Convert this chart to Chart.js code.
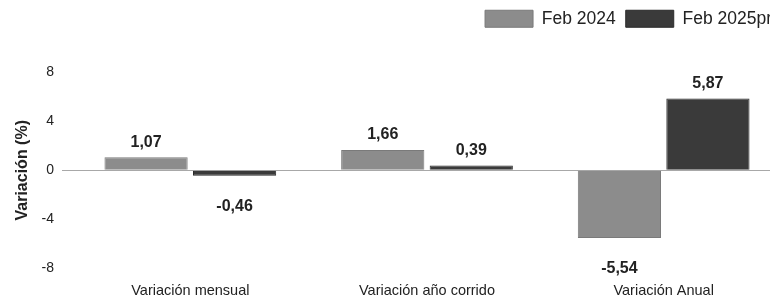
<!DOCTYPE html>
<html>
<head>
<meta charset="utf-8">
<script src="https://cdn.jsdelivr.net/npm/chart.js@4"></script>
<style>
  html, body { margin: 0; padding: 0; background: #fff; overflow: hidden; }
  #wrap { width: 790px; height: 305px; }
</style>
</head>
<body>
<div id="wrap"><canvas id="myChart" width="790" height="305"></canvas></div>
<script>
const categories = ["Variación mensual", "Variación año corrido", "Variación Anual"];
const feb2024 = [1.07, 1.66, -5.54];
const feb2025 = [-0.46, 0.39, 5.87];
const seriesNames = ["Feb 2024", "Feb 2025pr"];
const yTicks = [-8, -4, 0, 4, 8];

const FONT = "'Liberation Sans', Arial, sans-serif";
const TEXT = "#222";

// value labels above / below each bar, decimal comma
const valueLabels = {
  id: "valueLabels",
  afterDatasetsDraw(chart) {
    const ctx = chart.ctx;
    ctx.save();
    ctx.font = "bold 16px " + FONT;
    ctx.fillStyle = TEXT;
    ctx.textAlign = "center";
    ctx.textBaseline = "middle";
    chart.data.datasets.forEach((ds, i) => {
      chart.getDatasetMeta(i).data.forEach((bar, j) => {
        const v = ds.data[j];
        const txt = v.toFixed(2).replace(".", ",");
        const y = v >= 0 ? bar.y - 15 : bar.y + 31;
        ctx.fillText(txt, bar.x, y);
      });
    });
    ctx.restore();
  }
};

// extra room under the legend
const legendGap = {
  id: "legendGap",
  beforeInit(chart) {
    const fit = chart.legend.fit;
    chart.legend.fit = function () {
      fit.bind(chart.legend)();
      this.height += 35;
    };
  }
};

const ctx = document.getElementById("myChart").getContext("2d");
const myChart = new Chart(ctx, {
  type: "bar",
  data: {
    labels: categories,
    datasets: [
      {
        label: seriesNames[0],
        data: feb2024,
        backgroundColor: "#8c8c8c",
        borderColor: "#7a7a7a",
        borderWidth: 1,
      },
      {
        label: seriesNames[1],
        data: feb2025,
        backgroundColor: "#3a3a3a",
        borderColor: "#2a2a2a",
        borderWidth: 1,
      },
    ],
  },
  options: {
    responsive: false,
    animation: false,
    categoryPercentage: 0.748,
    barPercentage: 0.94,
    layout: { padding: { top: 0, right: 8, bottom: 0, left: 0 } },
    plugins: {
      tooltip: { enabled: false },
      legend: {
        position: "top",
        align: "end",
        labels: {
          boxWidth: 48,
          boxHeight: 17,
          padding: 10,
          color: TEXT,
          font: { family: FONT, size: 17.5 },
        },
      },
    },
    scales: {
      x: {
        afterFit: (scale) => {
          scale.height = 37;
        },
        grid: { display: false, drawTicks: false },
        border: { display: false },
        ticks: {
          padding: 14,
          color: TEXT,
          font: { family: FONT, size: 14.5 },
        },
      },
      y: {
        min: -8,
        max: 8,
        afterBuildTicks: (scale) => {
          scale.ticks = yTicks.map((v) => ({ value: v }));
        },
        afterFit: (scale) => {
          scale.width = 72;
        },
        border: { display: false },
        grid: {
          tickLength: 10,
          lineWidth: 1,
          color: (c) => (c.tick && c.tick.value === 0 ? "#a8a8a8" : "rgba(0,0,0,0)"),
          tickColor: (c) => (c.tick && c.tick.value === 0 ? "#a8a8a8" : "rgba(0,0,0,0)"),
        },
        ticks: {
          padding: 8,
          color: TEXT,
          font: { family: FONT, size: 14 },
        },
        title: {
          display: true,
          text: "Variación (%)",
          color: TEXT,
          padding: { top: 13, bottom: 0 },
          font: { family: FONT, size: 16, weight: "bold" },
        },
      },
    },
  },
  plugins: [valueLabels, legendGap],
});
</script>
</body>
</html>
